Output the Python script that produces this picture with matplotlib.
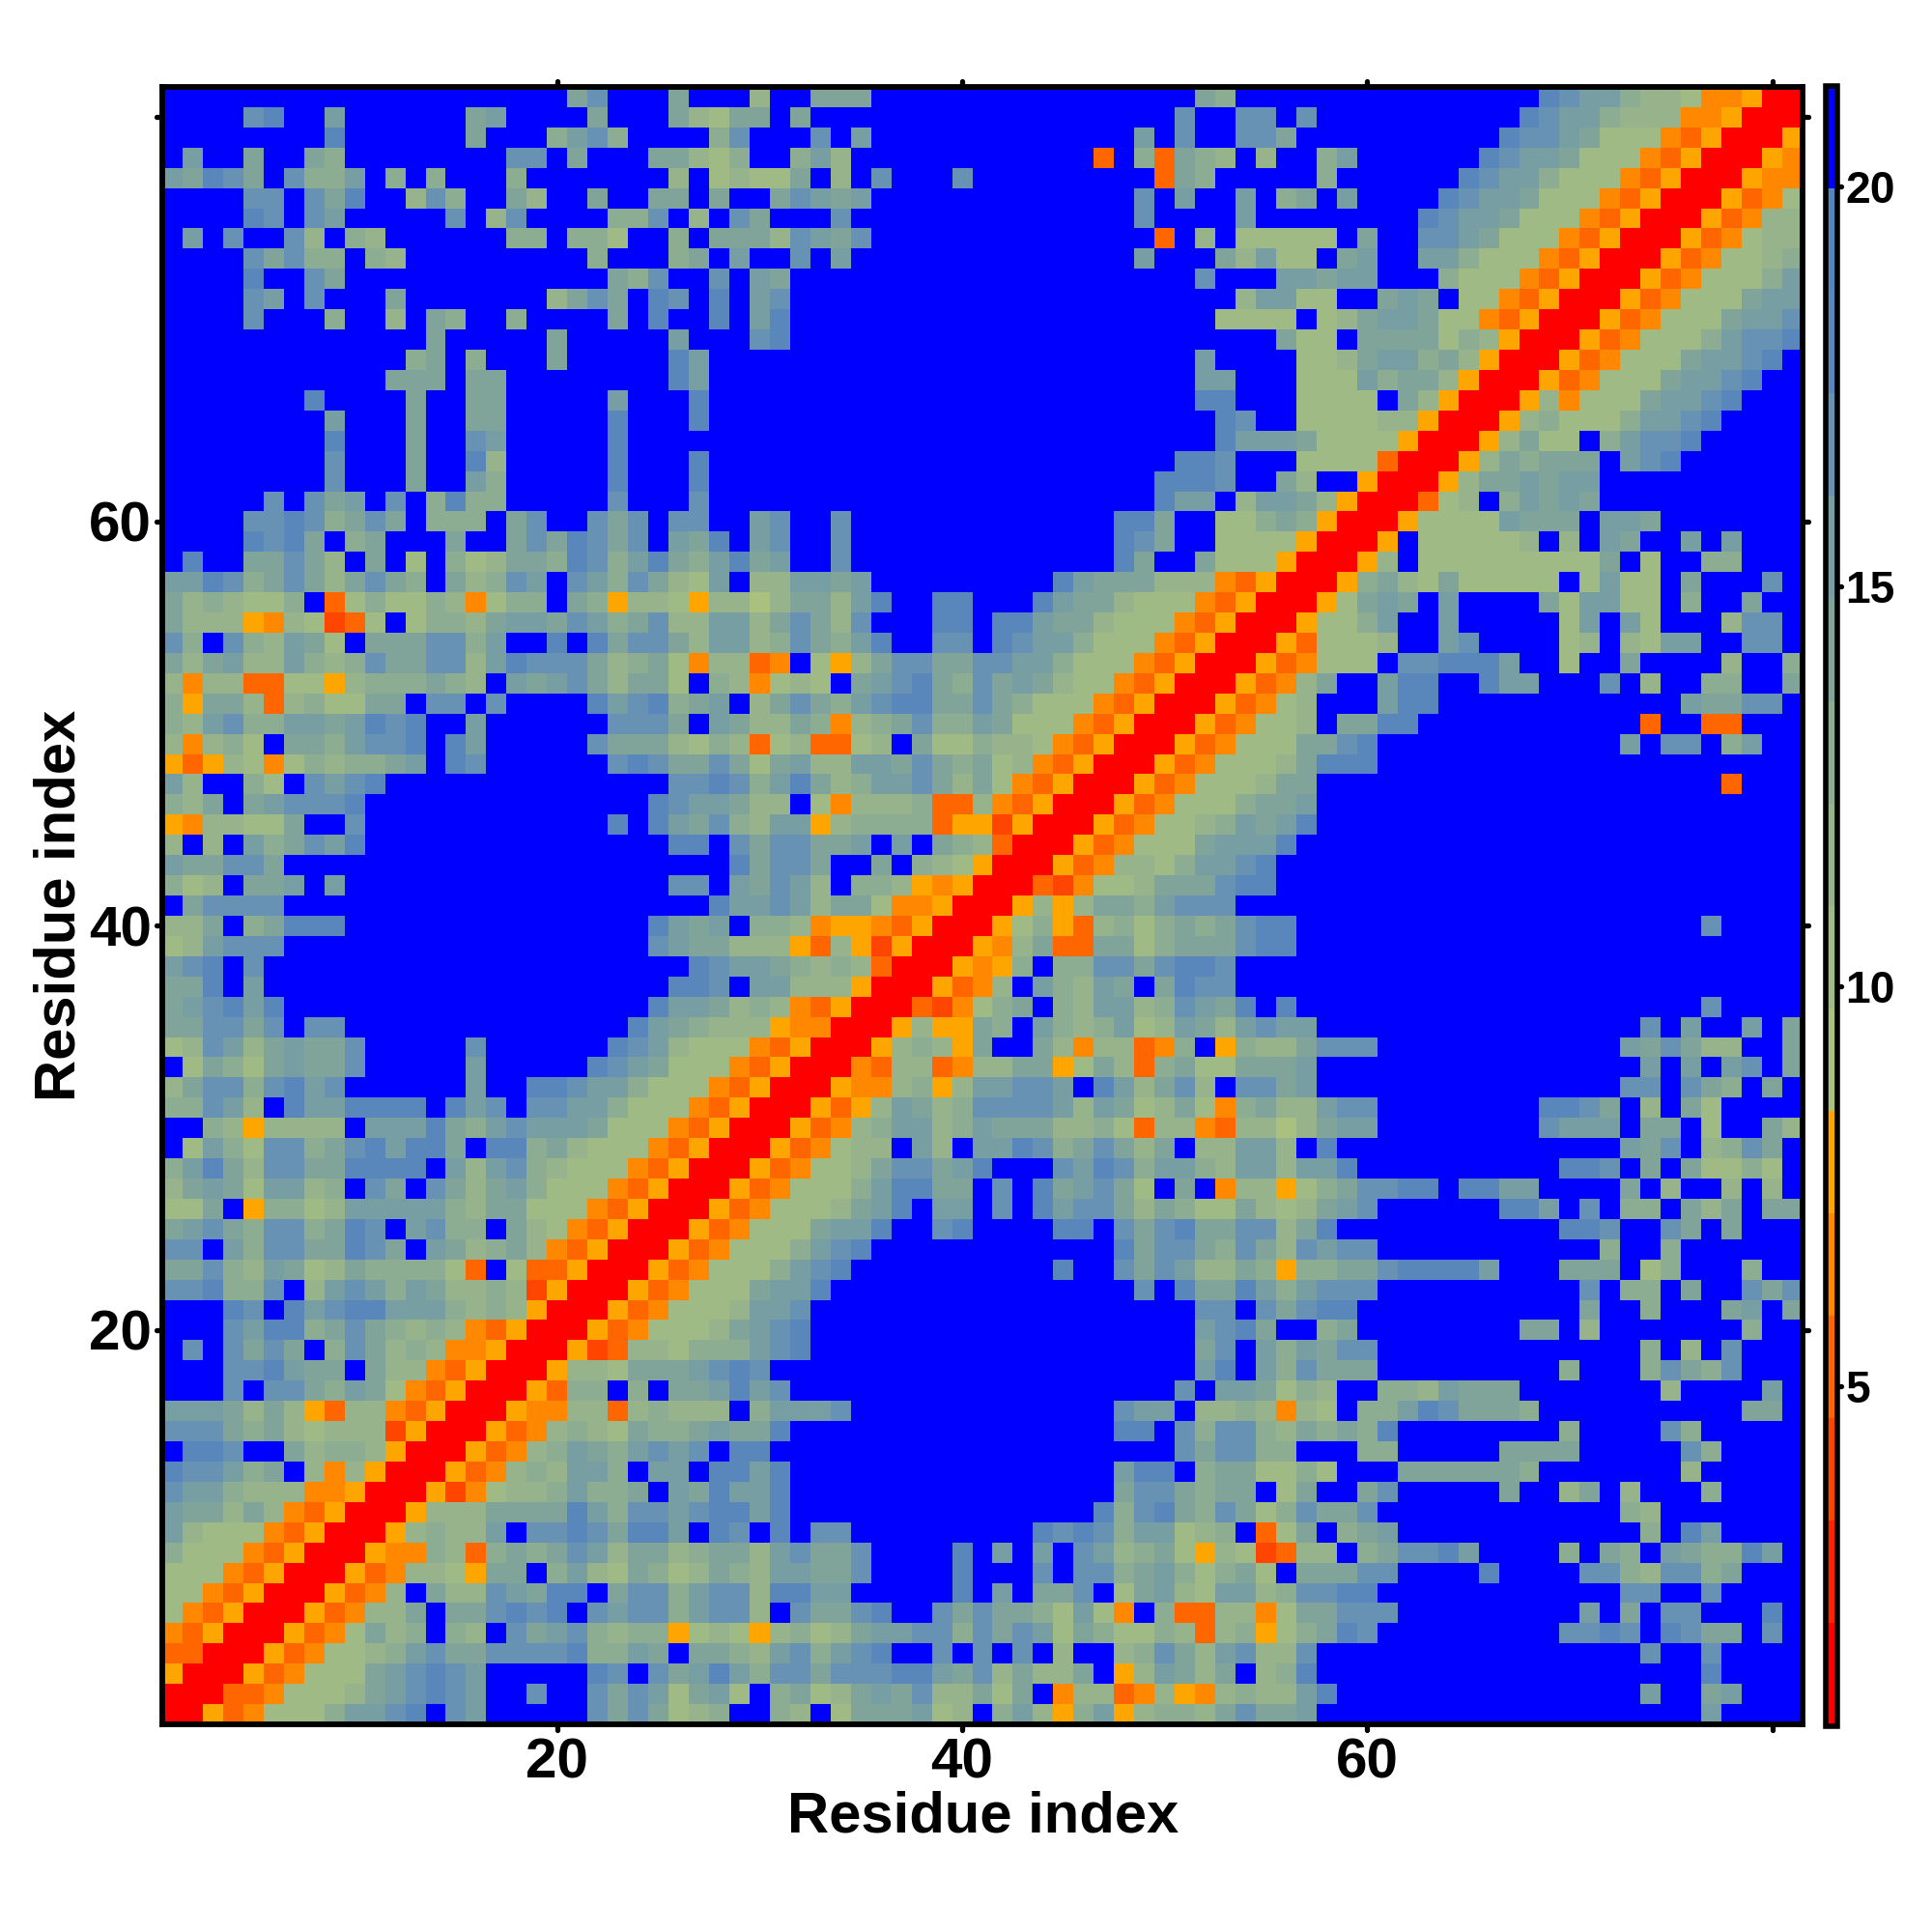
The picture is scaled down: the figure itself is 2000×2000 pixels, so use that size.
import numpy as np
import matplotlib
matplotlib.use("Agg")
import matplotlib.pyplot as plt
from matplotlib.colors import ListedColormap, BoundaryNorm
from matplotlib.markers import MarkerStyle

plt.rcParams['font.family'] = ['Liberation Sans', 'DejaVu Sans']
plt.rcParams['font.weight'] = 'bold'

N = 81
tick_vals = [20, 40, 60, 80]
tick_labels = ['20', '40', '60', '']
cbar_ticks = [5, 10, 15, 20]

# colour levels of the distance scale, bottom to top
level_edges = [0.755 + 1.2816 * i for i in range(17)]
level_colors = ['#ff0000', '#ff2200', '#ff4500', '#ff6600', '#ff8800', '#ffa500',
                '#a9c07f', '#a0ba85', '#96b38b', '#8cad91', '#80a39a', '#769ea3',
                '#6792b3', '#5986bb', '#5585bd', '#0000ff']

# upper left half, row -> "first column, level codes (hex)"; everything else is level f
rows = {
81: "21 ac,26 a,30 8,33 aaa,52 a9,69 dcbb9887 44500",
80: "5 cd,9 b,16 ab,22 a,26 a87aa,32 a,51 c,54 cc,57 c,68 dcbb988844500",
79: "9 d,16 a,20 9bc9,28 9c,33 c,35 b,49 b,51 c,54 cca,67 dccba77743500",
78: "2 b,5 a,8 a9,18 cc,21 a,25 aa879,32 9b8,47 3,49 9,50 3a98,55 8,58 9b,66 dcbba77743500",
77: "1 badca,7 c99b,12 9,14 9,18 9,26 8,28 7877a,34 8,36 c,40 c,50 3a9,58 9,65 dcbb977743500",
76: "5 cc,8 cad,13 8c9,18 a8,22 a,25 aa,28 a,31 acbab,49 c,51 b,54 b,56 9a,59 b,64 dcbba77743500",
75: "5 dc,8 cb,15 c,17 8c,23 99c,27 8,29 ca,34 c,49 c,54 b,63 dcbba77743500",
74: "2 b,4 c,7 c8,10 98,18 99,21 997,26 9,28 aaa8cbac,50 3,52 8,54 77777,60 a,63 ccba77743500",
73: "5 cac99,11 98,22 9,26 9a,29 b,32 c,34 b,49 b,53 a8b77,59 ab,63 bb977743500",
72: "5 d,8 ca,23 a9c,28 c,30 ba,52 c,56 bbabb,64 977743500",
71: "5 cb,8 c,12 a,20 8aca,25 dc,28 d,30 bc,54 8bb77,61 aba,65 7743500",
70: "5 c,9 9,12 8,14 a9,18 9,23 a,25 d,28 d,30 bd,53 7777,58 78abba,64 7743500",
69: "14 a,20 a,26 b,30 cd,56 a77,60 aaaa,64 798500",
68: "13 9a,16 9,20 a,26 db,52 b,57 778abb9a8500",
67: "12 aaa,16 aa,26 db,52 bb,57 777b9aa8500",
66: "8 d,13 a,16 aa,23 b,27 d,52 dd,57 7777,62 a8500",
65: "9 b,13 a,16 aa,23 d,27 d,53 dc,57 777788500",
64: "9 d,13 a,16 cb,23 d,53 dbbba7777500",
63: "9 c,13 a,16 d8,23 d,27 d,51 ddc,57 7777,61 300",
62: "9 c,13 a,16 b9,23 d,27 d,50 dddc,56 a8,60 500",
61: "6 c,8 cab,12 c,14 9d99,23 c,27 c,50 dbb,54 8bba8500",
60: "5 ccdc9aca,14 999,18 ac,22 cac,26 cc,30 bc,34 c,48 dda,53 777,55 9a9500",
59: "5 dcda,10 9a,15 a,18 acadcac,26 ba,28 d,30 bc,34 c,48 dca,53 7777500",
58: "2 d,5 aaca8,11 a,13 7,15 978aa9dc9bda9bdab,34 c,48 da,52 a777500",
57: "1 bbdc9aca8aca9,15 a89cb,21 cb9ca87b,30 88bbab,45 dbaaa88843500",
56: "1 a898779,9 37977984799,21 a95887588 68aa8bd,39 dd,44 dbaa877743500",
55: "1 a8885487237,13 7998abbacb9ac88bb8aca8c,39 dd,42 ddbaa877743500",
54: "1 c9,4 c98ba7,11 aaacc9b,20 d,22 dacca8bb89ca9bd,39 cc,42 dcbb977743500",
53: "1 a8ab88b989caacc8bdccca89a748834,33 758accaaccbb977743500",
52: "1 8488337758999a98,18 babca8aa7,28 984787,35 abcda9caba87743500",
51: "1 95aa838977aa,14 cc,17 c,22 dbcd9a,28 b,30 8aca9bcddaaca977743500",
50: "1 98bc99bbabdcd,16 b,23 ccca,28 ba88a9489ac99ba77743500",
49: "1 84897,7 aa9bccd,15 db,22 caaa87,28 983783378,38 a77988743500",
48: "1 53587479899ab,15 dc,23 cdcaa,28 ca7ab88bbaca9a7843500",
47: "1 b8,5 97,8 cbcd,26 cc,28 dc9bda89bbca8a743500",
46: "1 98a,5 abcccd,25 dcb,28 ba88,33 74888933843500",
45: "1 548877a,10 c,23 d,25 dba,28 c98bb5899993552500",
44: "1 8,3 8,5 b9acbd,26 dd,29 caccaab,37 b,39 a98300",
43: "1 baacca,29 dacca,36 a,38 987500",
42: "1 978,5 aab,9 b,26 cc,29 bacb8,35 99854500",
41: "2 acccc,28 dbbcb8aa744500",
40: "1 88a,5 9addd,25 dba,28 b,30 99845543500",
39: "1 78bccc,25 cba,28 a88853852500",
38: "1 bcd,5 c,27 dcbba9898300",
37: "1 aad,5 b,26 ddc,30 bb888500",
36: "1 abcdbd,25 dbba89843500",
35: "1 aaccac,8 cc,24 dba988854400",
34: "1 78cb8abaac,16 c,23 dcb877743500",
33: "2 7a97abaac,16 b,22 dcba77743500",
32: "1 8acc9cdbc,16 b,19 ddcbb977743500",
31: "1 99cb8,7 dbbdddd,15 dbc,19 ccbb977743500",
30: "3 9858888,11 bbbda9bcbbba77743500",
29: "2 7b97cc9acdbdda,17 dd9a877743500",
28: "1 9bda8ccaadddd,15 b8bc9877743500",
27: "1 8aba7bb89,11 ca,14 ca8ab977743500",
26: "1 77a,5 59978bbbbb98aa77743500",
25: "1 abca9cc9adc,13 bc99,18 a8743500",
24: "1 cc,4 b9ccaadca,14 ba89a843500",
23: "1 aac98ba78a999973,18 733500",
22: "1 ccd99c,8 8bcb9ba88982500",
21: "4 dc,7 dbcddbbb9898500",
20: "4 cbdd9aca989843500",
19: "2 c,4 caca,9 9ca89844500",
18: "4 ccdbaa,11 a8843500",
17: "4 c,6 cca9ba743500",
16: "1 bbba8a8538843500",
15: "1 ccca9a878882500",
14: "2 ddc,7 a8998500",
13: "1 dccb9a,8 848500",
12: "1 cbb988844500",
11: "1 baa8a843500",
10: "1 b877743500",
9: "1 977743500",
8: "1 77743500",
7: "1 7743500",
6: "1 743500",
5: "1 43500",
4: "1 3300",
3: "1 500",
2: "1 00",
1: "1 0",
}

# level code -> distance in the middle of that level; the matrix is symmetric
Z = np.full((N, N), level_edges[15] + 0.6)
for r, text in rows.items():
    for part in text.split(','):
        bits = part.split()
        c = int(bits[0])
        for ch in ''.join(bits[1:]):
            code = int(ch, 16)
            val = level_edges[code] + 0.6
            Z[r - 1, c - 1] = val
            Z[c - 1, r - 1] = val
            c += 1

cmap = ListedColormap(level_colors)
norm = BoundaryNorm(level_edges, cmap.N)

fig = plt.figure(figsize=(10, 10), dpi=200)
W, H = 2000.0, 2000.0
ax = fig.add_axes([168 / W, 1 - 1785 / H, (1866 - 168) / W, (1785 - 90) / H])
cax = fig.add_axes([1889.5 / W, 1 - 1786.5 / H, 12 / W, (1786.5 - 89) / H])

edges = np.arange(0.5, N + 1.0)
mesh = ax.pcolormesh(edges, edges, Z, cmap=cmap, norm=norm, linewidth=0, rasterized=True)
ax.set_xlim(0.5, N + 0.5)
ax.set_ylim(0.5, N + 0.5)

ax.set_xticks(tick_vals)
ax.set_xticklabels(tick_labels)
ax.set_yticks(tick_vals)
ax.set_yticklabels(tick_labels)
ax.tick_params(axis='both', which='major', direction='out', length=2.0, width=1.9,
               top=True, right=True, labelsize=21, pad=3)
ax.tick_params(axis='y', pad=2)
for sp in ax.spines.values():
    sp.set_linewidth(2.1)

ax.set_xlabel('Residue index', fontsize=21.5, fontweight='bold', labelpad=0)
ax.set_ylabel('Residue index', fontsize=21.5, fontweight='bold', labelpad=0)
ax.xaxis.set_label_coords((1018 - 168) / (1866 - 168), -(1881 - 1785) / (1785 - 90), transform=ax.transAxes)
ax.xaxis.label.set_va('center')
ax.yaxis.set_label_coords(-(168 - 62) / (1866 - 168), 0.5, transform=ax.transAxes)
ax.yaxis.label.set_va('center')

cb = fig.colorbar(mesh, cax=cax, ticks=cbar_ticks, spacing='proportional', drawedges=False)
cb.outline.set_linewidth(2.0)
cb.ax.tick_params(length=1.6, width=1.9, labelsize=16.6, pad=1.5, right=True, direction='out')
cb.ax.minorticks_off()

# the ticks have rounded ends in the original
fig.canvas.draw()
for axis in [ax.xaxis, ax.yaxis, cb.ax.yaxis]:
    for tick in axis.get_major_ticks():
        for line in [tick.tick1line, tick.tick2line]:
            line.set_marker(MarkerStyle(line.get_marker(), capstyle='round'))

fig.savefig('out.png', dpi=200, facecolor='white')
